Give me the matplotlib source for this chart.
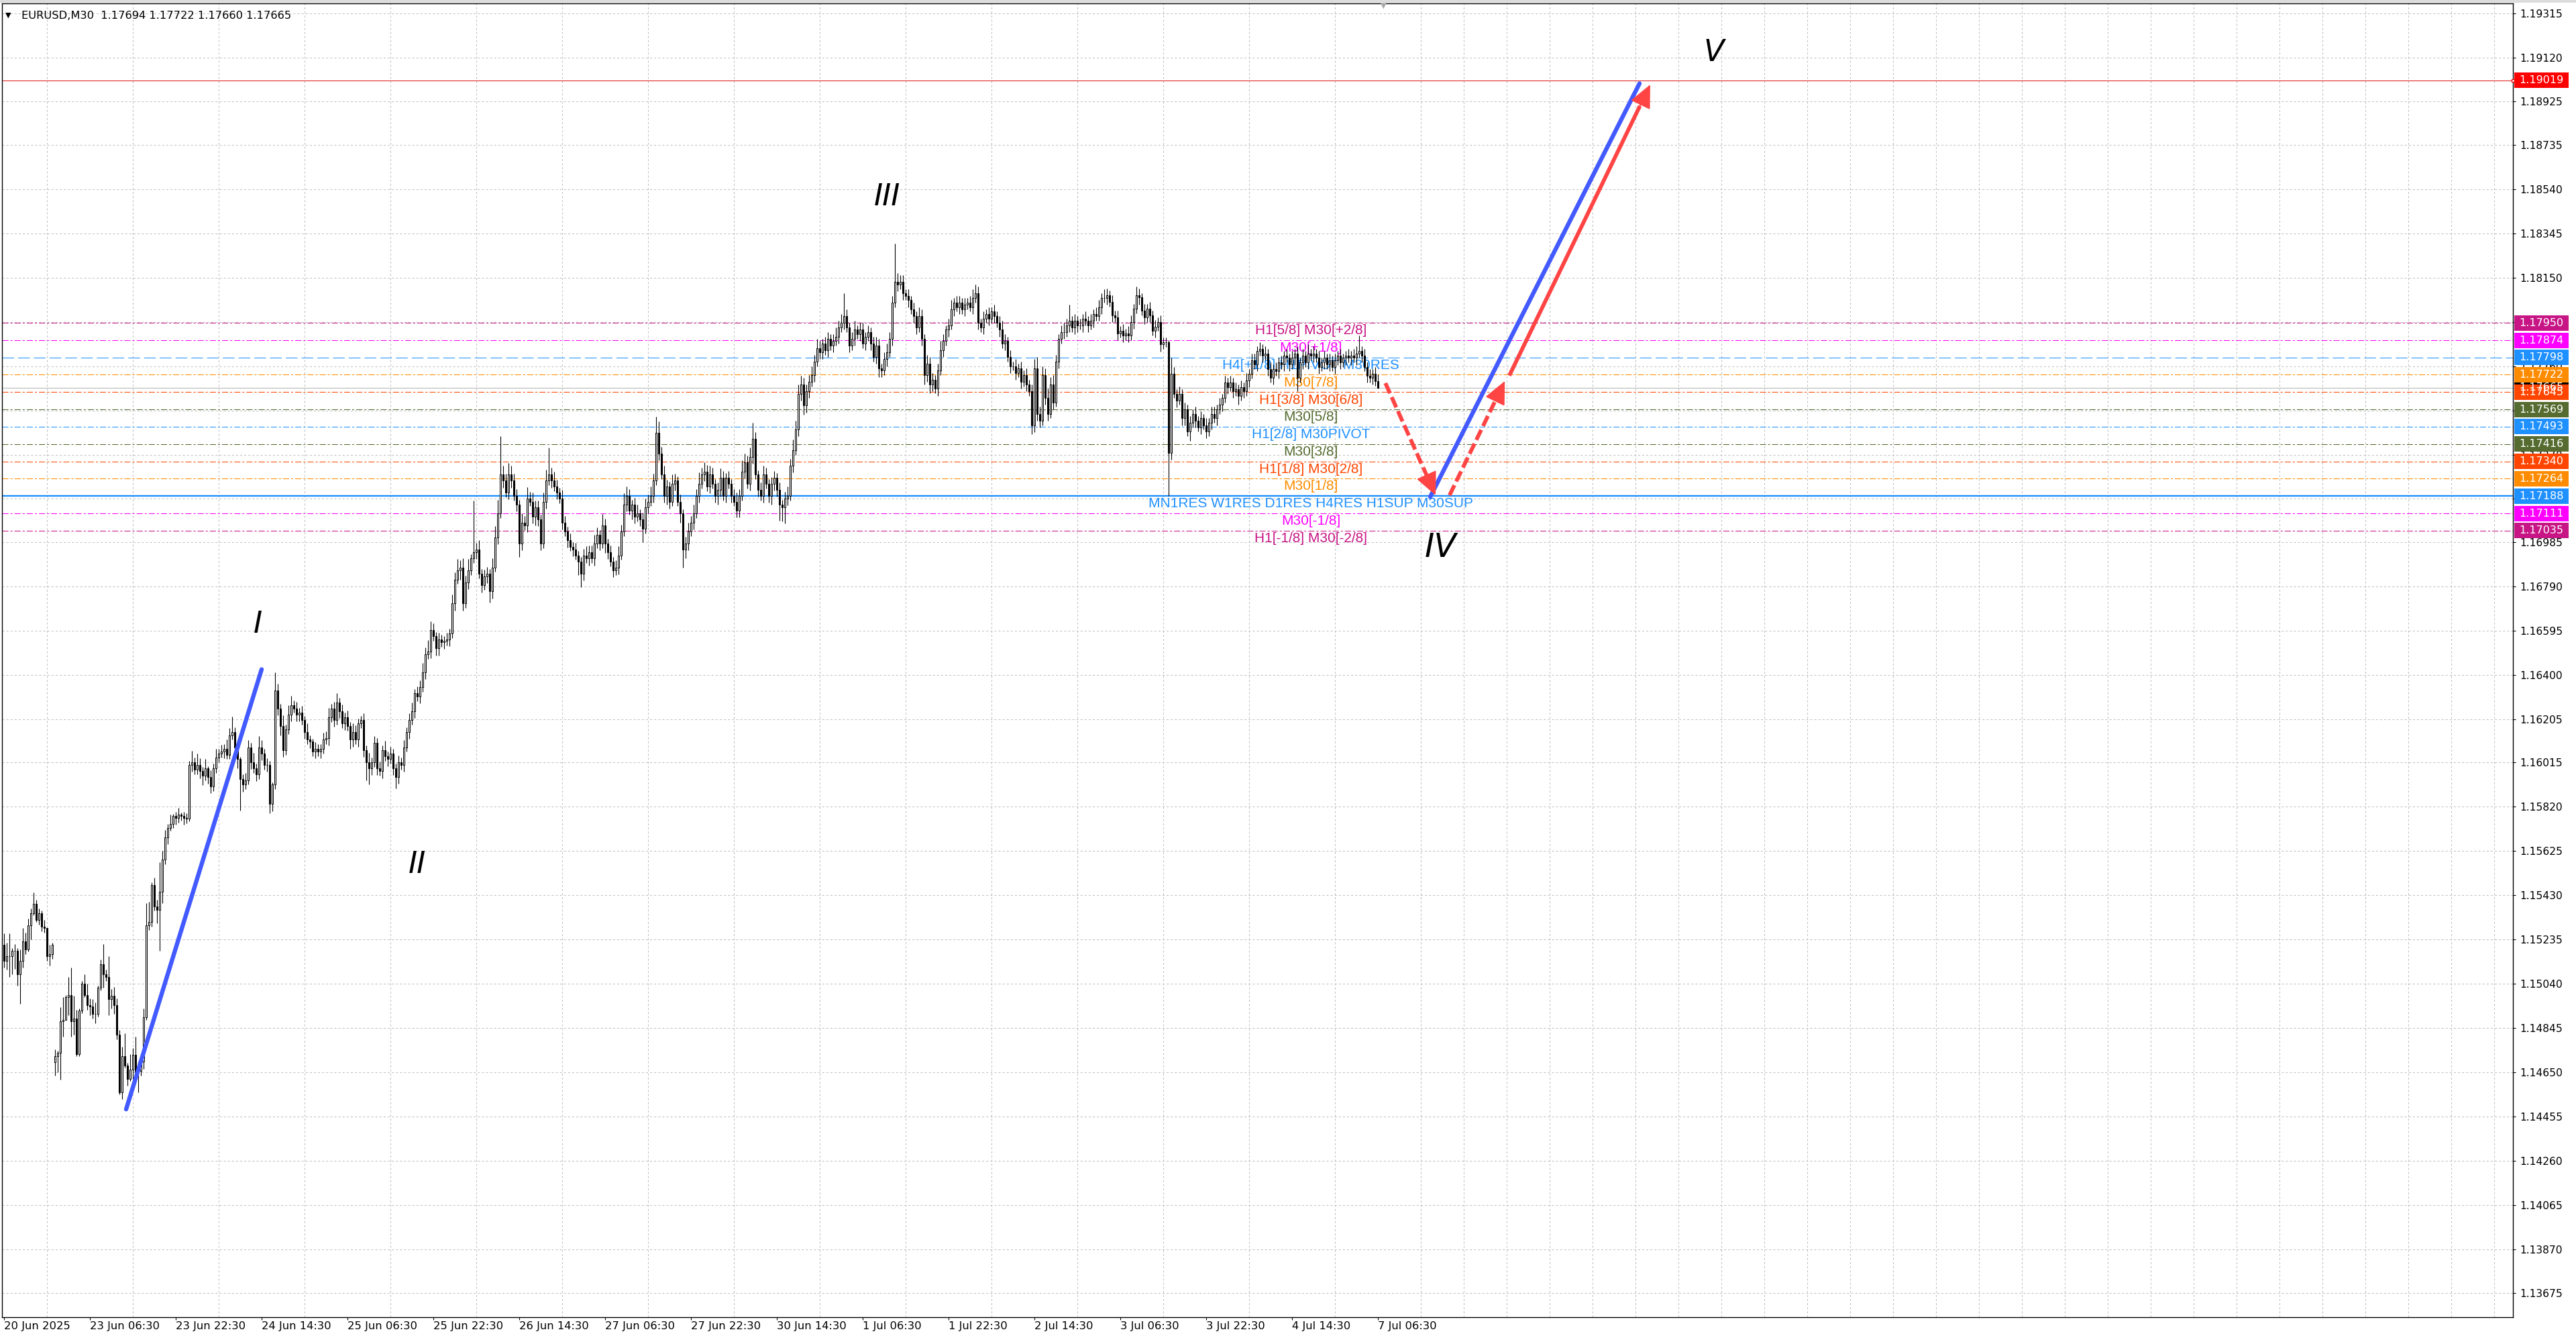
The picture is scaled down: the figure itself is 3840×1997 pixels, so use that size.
# plot.py
# EURUSD M30 chart in MetaTrader look: candles, Murrey levels and a wave count

import numpy as np
import matplotlib
matplotlib.use("Agg")
import matplotlib.pyplot as plt
from matplotlib.patches import Rectangle
from matplotlib.transforms import blended_transform_factory

BASE = 1.14      # candle values below are pips above this price
PIP = 0.0001

# Friday open of the first bar and the gapped Monday open
first_open = 121.0
monday_bar = 19
monday_open = 69.3

closes = [
    114, 116, 116, 118.5, 118.5, 108, 114, 122.5, 119, 129.5, 135, 139, 132, 135, 129, 128.5, 116, 117, 121, 72,
    73.5, 87.5, 88, 98, 99, 87.5, 88.5, 73, 92, 104, 99, 94.5, 94, 90.5, 90.5, 102, 112.5, 108, 107, 97,
    98.5, 94.5, 81.5, 56, 72, 68, 62, 66, 72.5, 65, 65.5, 69.5, 89, 129.5, 131, 147.5, 138, 136.5, 144.5, 158.5,
    168.5, 172.4, 174.4, 177.7, 177, 178.4, 177.7, 177, 176.6, 200.2, 201.5, 198.2, 200.2, 197.5, 195.5, 198.8, 194.9, 190.9, 198.8, 203.4,
    205.4, 206.1, 207.4, 204.8, 213.4, 214.7, 208.1, 202.8, 194.2, 191.6, 193.6, 208.1, 201.5, 198.8, 196.2, 208.1, 205.4, 200.2, 200.2, 183,
    191.6, 233.2, 225.2, 217.3, 206.8, 216, 222.6, 226.6, 225.2, 222.6, 223.3, 220, 214.7, 211.4, 210.7, 206.1, 207.4, 206.1, 207.4, 211.4,
    212, 221.3, 225.2, 220, 227.9, 223.9, 218.6, 221.3, 217.3, 211.4, 214.7, 211.4, 218.6, 220, 206.8, 201.5, 198.8, 201.5, 210.1, 198.8,
    197.5, 206.8, 204.2, 202.8, 205.4, 198.8, 194.9, 201.5, 200.2, 208.1, 214.7, 220, 223.9, 231.8, 230.5, 234.5, 241.1, 249, 250.3, 259.6,
    256.9, 251.6, 255.6, 254.3, 254.9, 255.6, 258.2, 271.4, 282, 286, 287.3, 271.4, 280.7, 286, 291.2, 293.9, 295.2, 284.6, 279.4, 283.3,
    284.6, 276.7, 287.3, 300.5, 311, 328.2, 325.5, 320.3, 328.2, 325.5, 318.9, 315, 297.8, 307.1, 305.8, 317.6, 316.3, 309.7, 313.7, 308.4,
    297.8, 316.3, 325.5, 328.2, 325.5, 322.9, 320.3, 317.6, 307.1, 303.1, 299.2, 296.5, 295.2, 292.6, 289.9, 284.6, 292.6, 291.2, 293.9, 291.2,
    297.8, 301.8, 297.8, 305.8, 297.8, 293.9, 289.9, 286, 287.3, 292.6, 303.1, 315, 318.9, 312.4, 315, 309.7, 311, 308.4, 304.4, 313.7,
    316.3, 318.9, 325.5, 346.7, 337.4, 328.2, 318.9, 322.9, 316.3, 324.2, 325.5, 316.3, 311, 295.2, 297.8, 303.1, 307.1, 311, 318.9, 324.2,
    328.2, 329.5, 322.9, 328.2, 324.2, 318.9, 321.6, 326.9, 318.9, 326.9, 324.2, 318.9, 316.3, 312.4, 318.9, 329.5, 333.5, 324.2, 336.1, 344,
    328.2, 321.6, 318.9, 328.2, 324.2, 318.9, 324.2, 326.9, 321.6, 315, 313.7, 317.6, 318.9, 332.2, 338.8, 348, 363.8, 367.8, 358.6, 365,
    369, 372, 378, 384, 382, 386, 383, 388, 385, 387, 389, 393, 395, 398, 393, 385, 388, 392, 390, 392,
    386, 389, 391, 386, 380, 385, 375, 374, 379, 382, 388, 404, 413, 412, 413, 408, 407, 405, 401, 398,
    393, 398, 388, 372, 377, 368, 370, 366, 374, 383, 387, 392, 394, 401, 404, 402, 404, 401, 403, 404,
    402, 406, 408, 395, 393, 397, 399, 397, 400, 398, 395, 392, 386, 387, 380, 376, 376, 373, 375, 369,
    372, 368, 365, 350, 375, 355, 352, 372, 362, 355, 368, 360, 378, 388, 391, 391, 394, 396, 393, 396,
    394, 394, 397, 396, 394, 396, 399, 398, 402, 406, 406, 407.2, 404.3, 398.4, 397.4, 390.5, 391.5, 389.5, 390.5, 389.5,
    395.4, 401.3, 407.2, 406.2, 400.3, 397.4, 401.3, 398.4, 391.5, 393.4, 395.4, 385.5, 386.5, 386.5, 337.8, 372.7, 363.9, 360.9, 363.9, 353,
    357, 347.1, 351, 355, 352, 349.1, 353, 350, 347.1, 351, 355, 353, 357, 359, 361.9, 368.8, 366.8, 368.8, 364.9, 365.9,
    362.9, 366.8, 364.9, 369.8, 372.7, 378.6, 376.7, 382.6, 383.6, 380.6, 381.6, 374.7, 370.8, 374.7, 373.7, 377.7, 376.7, 380.6, 379.6, 376.7,
    379.6, 381.6, 370.8, 377.7, 380.6, 377.7, 381.6, 380.6, 381.6, 379.6, 375.7, 377.7, 379.6, 376.7, 378.6, 375.7, 378.6, 380.6, 377.7, 379.6,
    380.6, 379.6, 380.6, 379.6, 381.6, 382.6, 380.6, 375.7, 371.7, 370.8, 372.7, 369.4, 366.5,
]

upper_wick = [
    5, 6, 10, 1, 3, 1, 5, 6, 4, 3, 2, 5, 2, 2, 1, 3, 0, 4, 1, 3,
    1, 6, 10, 1, 8, 12, 10, 4, 1, 1, 4, 5, 3, 3, 5, 1, 2, 9, 2, 9,
    3, 4, 3, 2, 4, 10, 1, 7, 3, 8, 4, 3, 4, 10, 9, 1, 3, 3, 13, 4,
    3, 2, 4, 1, 2, 3, 1, 2, 2, 2, 5, 2, 5, 3, 2, 4, 1, 3, 2, 4,
    2, 3, 2, 4, 3, 7, 2, 3, 1, 2, 3, 3, 2, 4, 2, 5, 3, 2, 3, 2,
    1, 8, 3, 2, 5, 2, 4, 4, 2, 3, 2, 3, 2, 4, 2, 1, 3, 2, 2, 3,
    3, 4, 2, 3, 4, 2, 3, 2, 3, 2, 4, 3, 2, 2, 3, 2, 4, 2, 3, 2,
    3, 2, 4, 2, 3, 2, 2, 3, 2, 3, 2, 3, 4, 2, 3, 3, 4, 3, 5, 4,
    3, 2, 3, 2, 2, 3, 2, 4, 3, 5, 3, 4, 3, 5, 2, 23, 3, 4, 2, 3,
    3, 2, 4, 5, 6, 17, 4, 3, 5, 4, 3, 3, 2, 4, 3, 5, 3, 4, 3, 3,
    2, 4, 5, 12, 3, 4, 3, 2, 4, 3, 2, 3, 2, 3, 2, 2, 3, 4, 3, 3,
    4, 3, 2, 5, 3, 2, 3, 2, 3, 4, 3, 5, 4, 3, 2, 3, 4, 2, 3, 4,
    3, 4, 3, 7, 5, 3, 4, 3, 2, 4, 3, 2, 3, 2, 3, 4, 3, 4, 3, 5,
    3, 4, 3, 4, 3, 2, 3, 4, 3, 2, 3, 2, 3, 4, 3, 5, 4, 3, 4, 7,
    3, 2, 3, 4, 3, 2, 3, 3, 2, 3, 2, 3, 4, 3, 5, 4, 4, 4, 3, 3,
    3, 4, 3, 4, 3, 2, 3, 3, 2, 3, 4, 3, 4, 10, 3, 2, 3, 4, 2, 3,
    3, 2, 3, 2, 3, 4, 3, 2, 3, 4, 3, 3, 17, 4, 3, 3, 2, 3, 2, 3,
    2, 4, 3, 2, 4, 3, 3, 2, 3, 4, 3, 2, 3, 4, 2, 3, 3, 2, 3, 2,
    3, 4, 4, 3, 2, 3, 2, 3, 2, 3, 2, 3, 4, 3, 2, 3, 2, 3, 2, 3,
    2, 3, 2, 3, 4, 5, 3, 4, 3, 4, 3, 4, 3, 2, 3, 4, 3, 7, 2, 3,
    2, 3, 2, 3, 2, 3, 2, 3, 3, 2, 4, 3, 2, 3, 2, 3, 2, 3, 2, 3,
    3, 2, 4, 3, 2, 3, 2, 3, 2, 3, 2, 3, 2, 2, 1, 7, 3, 2, 3, 2,
    3, 2, 3, 2, 3, 2, 3, 2, 3, 2, 3, 3, 2, 3, 2, 3, 2, 3, 2, 3,
    2, 3, 2, 3, 2, 3, 3, 2, 3, 2, 3, 2, 3, 2, 3, 2, 3, 2, 3, 2,
    3, 2, 3, 2, 3, 2, 4, 2, 3, 2, 3, 2, 3, 2, 3, 2, 3, 2, 3, 2,
    2, 3, 2, 3, 3, 7, 2, 3, 2, 3, 2, 3, 2.8,
]

lower_wick = [
    3, 4, 9, 8, 8, 5, 13, 3, 2, 1, 6, 1, 1, 2, 2, 2, 2, 4, 2, 6,
    7, 12, 7, 0, 8, 7, 6, 1, 1, 1, 1, 2, 4, 2, 4, 1, 1, 6, 2, 7,
    4, 4, 2, 1, 3, 1, 3, 1, 4, 2, 9, 2, 3, 1, 2, 2, 2, 6, 18, 5,
    2, 3, 1, 2, 3, 2, 2, 3, 2, 1, 3, 2, 2, 3, 4, 2, 3, 3, 2, 2,
    2, 2, 3, 2, 2, 2, 3, 4, 14, 3, 2, 2, 3, 2, 3, 2, 3, 2, 3, 4,
    3, 2, 3, 4, 3, 2, 2, 3, 2, 3, 3, 2, 3, 2, 3, 2, 3, 2, 3, 2,
    2, 3, 2, 3, 2, 3, 2, 3, 2, 4, 3, 2, 3, 2, 3, 8, 7, 3, 2, 3,
    2, 3, 2, 3, 2, 3, 5, 3, 2, 3, 2, 3, 2, 3, 2, 3, 2, 3, 2, 3,
    2, 3, 3, 2, 3, 2, 3, 2, 3, 2, 4, 3, 2, 3, 2, 2, 3, 2, 3, 2,
    3, 5, 3, 2, 3, 2, 3, 2, 3, 3, 2, 3, 6, 3, 2, 3, 2, 3, 4, 3,
    3, 2, 3, 2, 3, 2, 3, 2, 3, 2, 3, 2, 3, 2, 6, 6, 3, 2, 3, 2,
    3, 2, 3, 2, 4, 3, 2, 3, 2, 3, 2, 2, 3, 2, 4, 3, 2, 3, 6, 2,
    3, 2, 3, 2, 3, 2, 3, 4, 3, 2, 3, 2, 4, 8, 4, 3, 2, 3, 2, 3,
    2, 3, 2, 3, 2, 3, 4, 3, 2, 3, 2, 3, 2, 3, 3, 2, 3, 2, 3, 3,
    2, 3, 2, 3, 2, 3, 4, 3, 3, 7, 6, 7, 3, 2, 3, 2, 3, 3, 4, 3,
    3, 2, 3, 2, 3, 3, 2, 3, 2, 3, 2, 3, 2, 3, 2, 3, 2, 3, 2, 3,
    2, 3, 2, 3, 2, 3, 4, 3, 2, 3, 2, 3, 2, 3, 2, 3, 2, 3, 2, 3,
    3, 2, 3, 4, 3, 4, 3, 2, 3, 2, 3, 2, 3, 2, 3, 2, 3, 2, 3, 2,
    2, 3, 2, 3, 2, 3, 2, 3, 2, 3, 2, 3, 2, 3, 2, 3, 2, 3, 2, 3,
    2, 3, 2, 4, 3, 3, 3, 2, 3, 3, 2, 3, 2, 3, 2, 3, 2, 3, 2, 3,
    3, 2, 3, 2, 3, 2, 3, 2, 2, 3, 2, 3, 2, 3, 2, 3, 2, 3, 2, 3,
    2, 3, 2, 3, 2, 3, 2, 3, 2, 3, 2, 3, 2, 2, 19, 3, 2, 3, 2, 3,
    3, 2, 4, 2, 3, 2, 3, 2, 3, 2, 3, 2, 3, 2, 3, 2, 3, 2, 3, 2,
    4, 2, 3, 2, 3, 2, 2, 3, 2, 3, 2, 3, 2, 3, 2, 3, 2, 3, 2, 3,
    2, 3, 6, 2, 3, 2, 3, 2, 3, 2, 3, 2, 3, 2, 3, 2, 3, 2, 3, 2,
    3, 2, 3, 2, 3, 2, 3, 2, 3, 2, 3, 2, 0.5,
]

header = "EURUSD,M30  1.17694 1.17722 1.17660 1.17665"

time_labels = [
    "20 Jun 2025", "23 Jun 06:30", "23 Jun 22:30", "24 Jun 14:30", "25 Jun 06:30",
    "25 Jun 22:30", "26 Jun 14:30", "27 Jun 06:30", "27 Jun 22:30", "30 Jun 14:30",
    "1 Jul 06:30", "1 Jul 22:30", "2 Jul 14:30", "3 Jul 06:30", "3 Jul 22:30",
    "4 Jul 14:30", "7 Jul 06:30",
]

price_ticks = [
    1.19315, 1.19120, 1.18925, 1.18735, 1.18540, 1.18345, 1.18150, 1.17955, 1.17760, 1.17565,
    1.17370, 1.17175, 1.16985, 1.16790, 1.16595, 1.16400, 1.16205, 1.16015, 1.15820, 1.15625,
    1.15430, 1.15235, 1.15040, 1.14845, 1.14650, 1.14455, 1.14260, 1.14065, 1.13870, 1.13675,
]

level_prices = [1.17950, 1.17874, 1.17798, 1.17722, 1.17645, 1.17569, 1.17493,
                1.17416, 1.17340, 1.17264, 1.17188, 1.17111, 1.17035]
level_names = [
    "H1[5/8] M30[+2/8]", "M30[+1/8]", "H4[+1/8] H1PIVOT M30RES", "M30[7/8]",
    "H1[3/8] M30[6/8]", "M30[5/8]", "H1[2/8] M30PIVOT", "M30[3/8]",
    "H1[1/8] M30[2/8]", "M30[1/8]", "MN1RES W1RES D1RES H4RES H1SUP M30SUP",
    "M30[-1/8]", "H1[-1/8] M30[-2/8]",
]
level_colors = ["#C71585", "#FF00FF", "#1E90FF", "#FF8C00", "#FF4500", "#556B2F", "#1E90FF",
                "#556B2F", "#FF4500", "#FF8C00", "#1E90FF", "#FF00FF", "#C71585"]
level_kinds = ["dashdot", "dashdot", "dash", "dashdot", "dashdot", "dashdot", "dashdot",
               "dashdot", "dashdot", "dashdot", "solid", "dashdot", "dashdot"]

target_price = 1.19019
last_price = 1.17665

# wave count drawn by hand on the chart
roman_text = ["I", "II", "III", "IV", "V"]
roman_bar = [94.7, 154.1, 329.2, 535.5, 637.2]
roman_price = [1.16622, 1.15565, 1.18504, 1.16962, 1.19141]

wave1_bar = [45.6, 96.1]
wave1_price = [1.14486, 1.16424]
wave5_bar = [531.6, 609.6]
wave5_price = [1.17184, 1.19005]

arrow_bars = [(514.9, 533.6), (538.8, 559.4), (561.4, 613.6)]
arrow_prices = [(1.17685, 1.17191), (1.17191, 1.17694), (1.17726, 1.19000)]
arrow_dashed = [True, True, False]

W, H = 3840, 1997
GRID = "#C0C0C0"
WAVE_BLUE = "#425AFF"
WAVE_RED = "#FF4444"
DASHES = {"dashdot": (0, (6.5, 2.2, 2.2, 2.2)), "dash": (0, (12.6, 4.3)), "solid": "-"}


def draw_candles(ax):
    c = BASE + np.array(closes) * PIP
    o = np.r_[BASE + first_open * PIP, c[:-1]]
    o[monday_bar] = BASE + monday_open * PIP
    hi = np.maximum(o, c) + np.array(upper_wick) * PIP
    lo = np.minimum(o, c) - np.array(lower_wick) * PIP
    x = np.arange(len(c))

    ax.vlines(x, lo, hi, color="black", linewidth=0.8, zorder=3)
    faces = np.where(c >= o, "white", "black")
    ax.bar(x, c - o, bottom=o, width=0.5, color=faces, edgecolor="black",
           linewidth=0.75, zorder=4)


def draw_levels(ax):
    side = blended_transform_factory(ax.transAxes, ax.transData)
    half = 11.5 * 2.9544e-5

    ax.axhline(target_price, color="#E02020", linewidth=0.75, zorder=2)
    ax.axhline(last_price, color="#C0C0C0", linewidth=0.9, zorder=2)

    for price, name, color, kind in zip(level_prices, level_names, level_colors, level_kinds):
        lw = 1.7 if kind == "solid" else 0.75
        ax.axhline(price, color=color, linewidth=lw, linestyle=DASHES[kind], zorder=2)
        ax.annotate(name, (487.1, price), xytext=(0, -1.5), textcoords="offset points",
                    ha="center", va="top", color=color, fontsize=15,
                    family="Liberation Sans", zorder=2.5)

    # price tags on the right scale
    tags = [(last_price, "black")] + [(target_price, "#FF0000")] + list(zip(level_prices, level_colors))
    for price, color in tags:
        ax.add_patch(Rectangle((1.0005, price - half), 0.0216, 2 * half, transform=side,
                               facecolor=color, edgecolor="none", clip_on=False, zorder=6))
        ax.text(1.0113, price, f"{price:.5f}", transform=side, ha="center", va="center",
                color="white", fontsize=11.5, clip_on=False, zorder=7)
    ax.plot([1.0], [target_price], transform=side, marker="s", markersize=3,
            markerfacecolor="white", markeredgecolor="#FF0000", clip_on=False, zorder=7)


def draw_waves(ax):
    ax.plot(wave1_bar, wave1_price, color=WAVE_BLUE, linewidth=4.6,
            solid_capstyle="round", zorder=8)
    ax.plot(wave5_bar, wave5_price, color=WAVE_BLUE, linewidth=4.6,
            solid_capstyle="round", zorder=8)

    for (b0, b1), (p0, p1), dashed in zip(arrow_bars, arrow_prices, arrow_dashed):
        # shaft, stopped a little short so the head covers its end
        b_end, p_end = b1 - 0.08 * (b1 - b0), p1 - 0.08 * (p1 - p0)
        style = (0, (12, 4.5)) if dashed else "-"
        ax.plot([b0, b_end], [p0, p_end], color=WAVE_RED, linewidth=4.2,
                linestyle=style, dash_capstyle="butt", zorder=8)
        ax.annotate("", xy=(b1, p1), xytext=(b_end, p_end), zorder=8,
                    arrowprops=dict(arrowstyle="-|>,head_length=0.9,head_width=0.42",
                                    mutation_scale=24, color=WAVE_RED, linewidth=1.5,
                                    shrinkA=0, shrinkB=0))

    for text, b, p in zip(roman_text, roman_bar, roman_price):
        ax.text(b, p, text, ha="center", va="center", fontsize=32 if text != "IV" else 35,
                color="black", style="italic", zorder=9)


def main():
    plt.rcParams["font.family"] = ["DejaVu Sans"]
    plt.rcParams["lines.scale_dashes"] = False

    fig = plt.figure(figsize=(W / 100, H / 100), dpi=100)
    ax = fig.add_axes([3 / W, 1 - 1963 / H, 3743 / W, 1958 / H])
    ax.set_xlim(-0.65, 935.1)
    ax.set_ylim(1.13570, 1.19358)

    for side in ax.spines.values():
        side.set_linewidth(1.0)
        side.set_color("black")

    ax.yaxis.tick_right()
    ax.set_yticks(price_ticks)
    ax.set_yticklabels([f"{t:.5f}" for t in price_ticks])
    ax.tick_params(axis="y", length=3, width=0.8, pad=4.3, labelsize=11.2)

    ax.set_xticks(np.arange(0, len(closes), 32))
    ax.set_xticklabels(time_labels, ha="left")
    ax.set_xticks(np.arange(16, 936, 16), minor=True)
    ax.tick_params(axis="x", which="major", length=3, width=0.8, pad=1.5, labelsize=11.8)
    ax.tick_params(axis="x", which="minor", length=0)

    ax.set_axisbelow(True)
    grid = dict(color=GRID, linewidth=0.75, linestyle=(0, (2.2, 2.2)))
    ax.grid(True, axis="y", which="major", **grid)
    ax.grid(True, axis="x", which="minor", **grid)

    draw_levels(ax)
    draw_candles(ax)
    draw_waves(ax)

    # window chrome
    fig.patches.append(Rectangle((0, 1 - 4 / H), 1, 4 / H, transform=fig.transFigure,
                                 facecolor="#DCDCDC", edgecolor="none"))
    fig.text(8 / W, 1 - 23 / H, "\u25bc", fontsize=8, va="center")
    fig.text(32 / W, 1 - 23 / H, header, fontsize=11.7, va="center")
    fig.text(2062 / W, 1 - 9 / H, "\u25bc", fontsize=8, va="center", ha="center", color="#A8A8A8")

    fig.savefig("out.png", dpi=100, facecolor="white")


if __name__ == "__main__":
    main()
